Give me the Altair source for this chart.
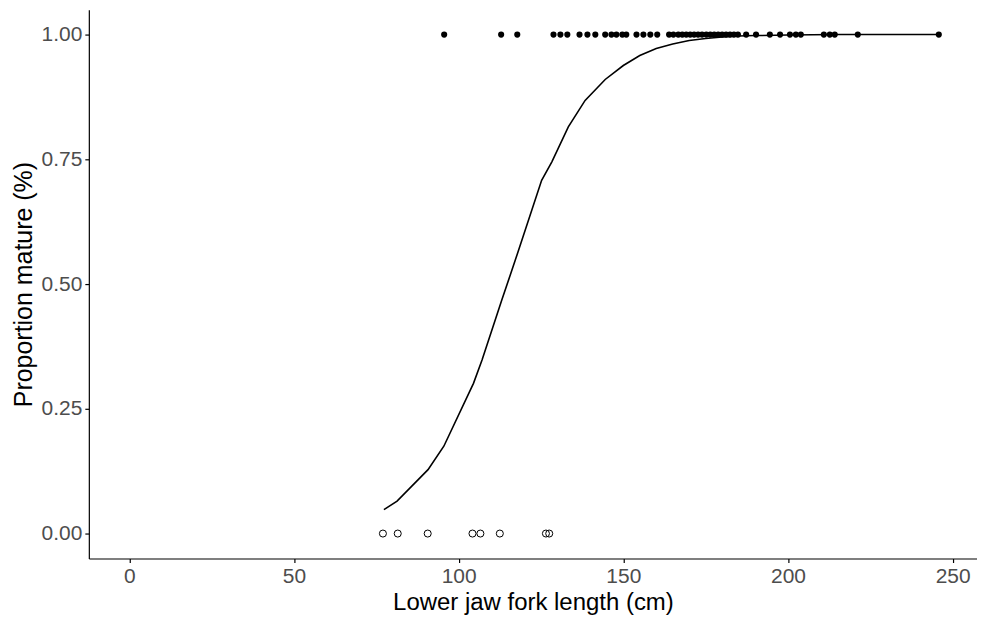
import altair as alt
import pandas as pd

# Immature fish (proportion mature = 0)
immature_len = [77.0, 81.5, 90.6, 104.2, 106.6, 112.5, 126.5, 127.5]

# Mature fish (proportion mature = 1)
mature_len = [95.6, 112.9, 117.8, 128.8, 130.9, 133.0, 136.7, 139.1, 141.5, 144.5,
              146.4, 147.9, 149.7, 150.9, 154.0, 156.1, 158.2, 160.3, 163.9, 165.2,
              166.7, 167.9, 169.1, 170.3, 171.5, 172.7, 173.9, 175.2, 176.4, 177.6,
              178.8, 180.0, 181.2, 182.4, 183.6, 184.8, 187.3, 190.3, 194.5, 197.6,
              200.6, 202.4, 203.9, 210.9, 212.7, 214.2, 221.2, 245.8]

# Fitted maturity curve
curve_len = [77.3, 81.3, 90.7, 95.5, 104.5, 107.1, 113.1, 117.2, 125.2, 128.3,
             133.3, 138.4, 144.5, 150.0, 155.0, 160.0, 165.0, 170.0, 175.0, 180.0,
             185.0, 190.0, 200.0, 215.0, 246.0]
curve_p = [0.048, 0.065, 0.128, 0.175, 0.301, 0.348, 0.468, 0.548, 0.708, 0.745,
           0.815, 0.868, 0.910, 0.938, 0.958, 0.972, 0.981, 0.988, 0.992, 0.995,
           0.997, 0.998, 0.999, 1.0, 1.0]

pts_im = pd.DataFrame({"len": immature_len, "p": [0.0] * len(immature_len)})
pts_ma = pd.DataFrame({"len": mature_len, "p": [1.0] * len(mature_len)})
curve = pd.DataFrame({"len": curve_len, "p": curve_p})

xscale = alt.Scale(domain=[-12.3, 257.4], nice=False, zero=False)
yscale = alt.Scale(domain=[-0.05, 1.05], nice=False, zero=False)

FONT = "Liberation Sans"

xaxis = alt.Axis(title="Lower jaw fork length (cm)", values=[0, 50, 100, 150, 200, 250],
                 format="d", grid=False, domainColor="black", tickColor="black",
                 tickSize=4, labelFontSize=21, labelColor="#4d4d4d",
                 labelFont=FONT, titleFont=FONT,
                 titleFontSize=24, titleFontWeight="normal", titleColor="black",
                 labelPadding=3, titlePadding=4, domainWidth=1.2, tickWidth=1.2)
yaxis = alt.Axis(title="Proportion mature (%)", values=[0, 0.25, 0.5, 0.75, 1.0],
                 format=".2f", grid=False, domainColor="black", tickColor="black",
                 tickSize=4, labelFontSize=21, labelColor="#4d4d4d",
                 labelFont=FONT, titleFont=FONT,
                 titleFontSize=25, titleFontWeight="normal", titleColor="black",
                 labelPadding=3, titlePadding=5, domainWidth=1.2, tickWidth=1.2)

line = alt.Chart(curve).mark_line(color="black", strokeWidth=1.6).encode(
    x=alt.X("len:Q", scale=xscale, axis=xaxis),
    y=alt.Y("p:Q", scale=yscale, axis=yaxis),
)
im = alt.Chart(pts_im).mark_point(shape="circle", filled=False, color="black",
                                  size=50, strokeWidth=1, opacity=1).encode(
    x=alt.X("len:Q", scale=xscale),
    y=alt.Y("p:Q", scale=yscale),
)
ma = alt.Chart(pts_ma).mark_circle(color="black", size=38, opacity=1).encode(
    x=alt.X("len:Q", scale=xscale),
    y=alt.Y("p:Q", scale=yscale),
)

chart = alt.layer(line, im, ma).properties(
    width=890, height=550,
    background="white",
    autosize=alt.AutoSizeParams(type="none"),
    padding={"left": 81, "top": 1, "right": 0, "bottom": 59},
).configure_view(stroke=None)

chart.save("out.html", embed_options={"renderer": "svg", "actions": False})
